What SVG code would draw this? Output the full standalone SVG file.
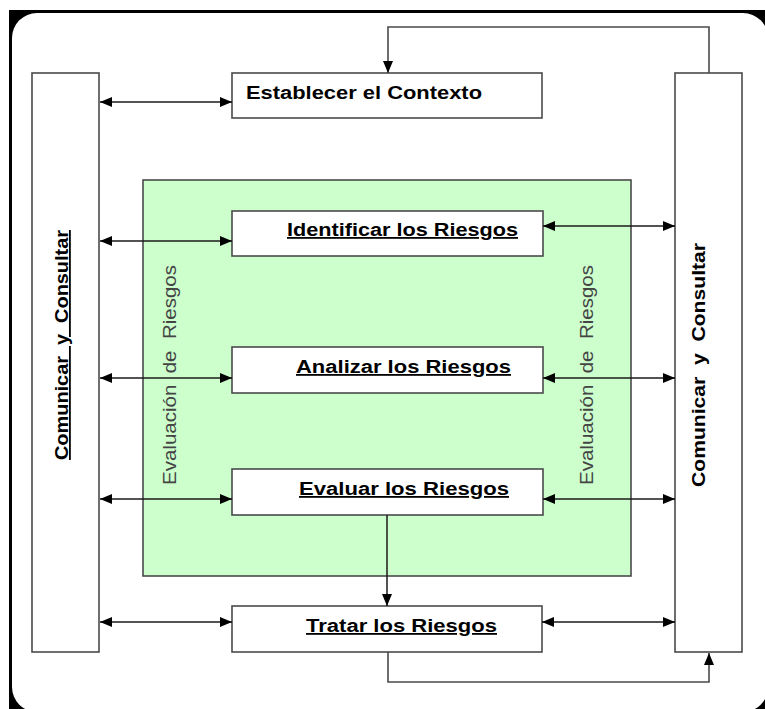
<svg xmlns="http://www.w3.org/2000/svg" width="765" height="709" viewBox="0 0 765 709">
<style>
.box{fill:#fff;stroke:#4a4a4a;stroke-width:1.6}
.lbl{font-family:"Liberation Sans",Arial,sans-serif;font-weight:bold;font-size:18px;fill:#000}
.ul{text-decoration:underline}
.rot{font-family:"Liberation Sans",Arial,sans-serif;font-size:18.5px;fill:#444}
.pre{white-space:pre}
.con{fill:none;stroke:#1a1a1a;stroke-width:1.5}
.fb{fill:none;stroke:#4a4a4a;stroke-width:1.6}
</style>
<defs>
<marker id="ah" markerUnits="userSpaceOnUse" markerWidth="12" markerHeight="10" refX="12" refY="5" orient="auto-start-reverse" viewBox="0 0 12 10">
<path d="M0,0 L12,5 L0,10 z" fill="#000"/>
</marker>
</defs>
<rect x="0" y="0" width="765" height="709" fill="#fff"/>
<rect x="9" y="10" width="760" height="702" fill="#000"/>
<rect x="12" y="13" width="756" height="699" rx="25" ry="25" fill="#fff"/>

<g id="evaluacion">
<rect x="143" y="180" width="488" height="396" fill="#ccffcc" stroke="#4a4a4a" stroke-width="1.6"/>
<text class="rot pre" xml:space="preserve" transform="translate(176,375) rotate(-90)" text-anchor="middle" textLength="220" lengthAdjust="spacingAndGlyphs">Evaluación  de  Riesgos</text>
<text class="rot pre" xml:space="preserve" transform="translate(593,375) rotate(-90)" text-anchor="middle" textLength="220" lengthAdjust="spacingAndGlyphs">Evaluación  de  Riesgos</text>
</g>

<g id="comunicar-izq">
<rect class="box" x="32" y="73" width="67" height="579"/>
<text class="lbl ul pre" xml:space="preserve" transform="translate(68,345) rotate(-90)" text-anchor="middle" textLength="230" lengthAdjust="spacingAndGlyphs">Comunicar  y  Consultar</text>
</g>

<g id="comunicar-der">
<rect class="box" x="675" y="73" width="67" height="579"/>
<text class="lbl pre" xml:space="preserve" transform="translate(705,365) rotate(-90)" text-anchor="middle" textLength="244" lengthAdjust="spacingAndGlyphs">Comunicar  y  Consultar</text>
</g>

<g id="establecer">
<rect class="box" x="232" y="73" width="310" height="45"/>
<text class="lbl" x="246" y="99" textLength="236" lengthAdjust="spacingAndGlyphs">Establecer el Contexto</text>
</g>

<g id="identificar">
<rect class="box" x="232" y="211" width="311" height="45"/>
<text class="lbl ul" x="287" y="236" textLength="231" lengthAdjust="spacingAndGlyphs">Identificar los Riesgos</text>
</g>

<g id="analizar">
<rect class="box" x="232" y="347" width="311" height="46"/>
<text class="lbl ul" x="296" y="373" textLength="215" lengthAdjust="spacingAndGlyphs">Analizar los Riesgos</text>
</g>

<g id="evaluar">
<rect class="box" x="232" y="469" width="311" height="46"/>
<text class="lbl ul" x="299" y="495" textLength="210" lengthAdjust="spacingAndGlyphs">Evaluar los Riesgos</text>
</g>

<g id="tratar">
<rect class="box" x="232" y="606" width="310" height="46"/>
<text class="lbl ul" x="306" y="632" textLength="191" lengthAdjust="spacingAndGlyphs">Tratar los Riesgos</text>
</g>

<g id="connectors">
<line class="con" x1="100" y1="102" x2="232" y2="102" marker-start="url(#ah)" marker-end="url(#ah)"/>
<line class="con" x1="100" y1="241" x2="232" y2="241" marker-start="url(#ah)" marker-end="url(#ah)"/>
<line class="con" x1="100" y1="378" x2="232" y2="378" marker-start="url(#ah)" marker-end="url(#ah)"/>
<line class="con" x1="100" y1="499" x2="232" y2="499" marker-start="url(#ah)" marker-end="url(#ah)"/>
<line class="con" x1="100" y1="622" x2="232" y2="622" marker-start="url(#ah)" marker-end="url(#ah)"/>
<line class="con" x1="543" y1="226" x2="675" y2="226" marker-start="url(#ah)" marker-end="url(#ah)"/>
<line class="con" x1="543" y1="378" x2="675" y2="378" marker-start="url(#ah)" marker-end="url(#ah)"/>
<line class="con" x1="543" y1="499" x2="675" y2="499" marker-start="url(#ah)" marker-end="url(#ah)"/>
<line class="con" x1="542" y1="622" x2="675" y2="622" marker-start="url(#ah)" marker-end="url(#ah)"/>
<line class="con" x1="387" y1="515" x2="387" y2="606" marker-end="url(#ah)"/>
<polyline class="fb" points="709,73 709,27 388,27 388,73" marker-end="url(#ah)"/>
<polyline class="fb" points="388,652 388,682 709,682 709,653" marker-end="url(#ah)"/>
</g>
</svg>
